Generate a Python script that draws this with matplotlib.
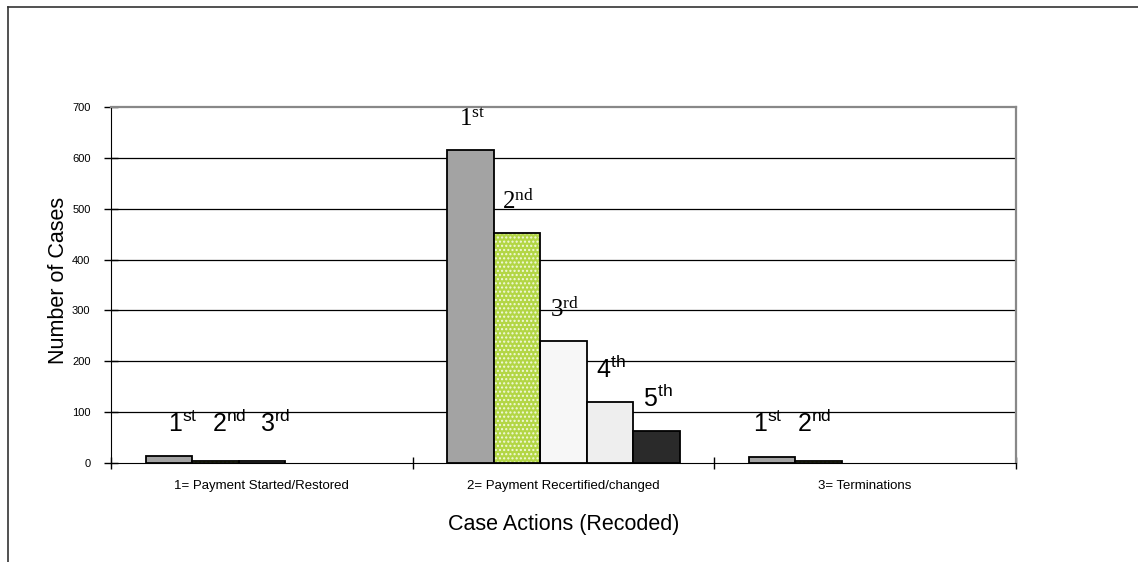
import matplotlib; matplotlib.use('Agg')
import matplotlib.pyplot as plt
from matplotlib.lines import Line2D

categories = ['1= Payment Started/Restored', '2= Payment Recertified/changed', '3= Terminations']
counts = [[14, 3, 3], [615, 452, 240, 120, 63], [11, 3]]
ordinals = ['1st', '2nd', '3rd', '4th', '5th']

# look of each slot within a group
slot_face = ['#a3a3a3', '#b3d645', '#f7f7f7', '#eeeeee', '#2a2a2a']
slot_hatch = [None, '....', None, None, None]
serif_labels = {(1, 0), (1, 1), (1, 2)}
label_dx = [0.046, 0.004, -0.016]

plt.rcParams['font.family'] = ['Liberation Sans', 'DejaVu Sans']

fig = plt.figure(figsize=(11.38, 5.62), dpi=100)
ax = fig.add_axes([0.0975, 0.1762, 0.7953, 0.6334])

w = 0.154
for gi, vals in enumerate(counts):
    for j, v in enumerate(vals):
        x = gi + (j - 2) * w
        if slot_hatch[j]:
            ax.bar(x, v, w, color=slot_face[j], edgecolor='#f2f9dc', hatch=slot_hatch[j], lw=0, zorder=3)
            ax.bar(x, v, w, fill=False, edgecolor='black', lw=1.3, zorder=4)
        else:
            ax.bar(x, v, w, color=slot_face[j], edgecolor='black', lw=1.3, zorder=3)
        base, sup = ordinals[j][0], ordinals[j][1:]
        fam = ['Liberation Serif'] if (gi, j) in serif_labels else ['Liberation Sans']
        ax.text(x + label_dx[gi], max(v, 14) + 47, r'$\mathregular{%s^{%s}}$' % (base, sup),
                ha='center', va='baseline', fontsize=18, family=fam, zorder=5)

ax.set_xlim(-0.5, 2.5)
ax.set_ylim(0, 700)
ax.set_yticks(range(0, 701, 100))
ax.tick_params(axis='y', direction='inout', length=9.4, width=1, color='black', labelsize=8, pad=10)
ax.set_xticks(range(3))
ax.set_xticklabels(categories, fontsize=9.5)
ax.tick_params(axis='x', which='major', length=0, pad=12)
ax.set_xticks([-0.5, 0.5, 1.5, 2.5], minor=True)
ax.tick_params(axis='x', which='minor', direction='inout', length=9, width=1, color='black')

for y in range(100, 700, 100):
    ax.axhline(y, color='black', lw=0.9, zorder=1)
ax.spines['left'].set_color('black')
ax.spines['bottom'].set_color('black')
for s in ('top', 'right'):
    ax.spines[s].set_color('#888888')
    ax.spines[s].set_linewidth(1.6)

ax.set_ylabel('Number of Cases', fontsize=15.5)
ax.yaxis.set_label_coords(-0.046, 0.514)
ax.set_xlabel('Case Actions (Recoded)', fontsize=15.5)
ax.xaxis.set_label_coords(0.5, -0.143)

# outer chart frame (top and left edges)
fig.add_artist(Line2D([0.007, 1.0], [0.9875, 0.9875], color='#333333', lw=1.2))
fig.add_artist(Line2D([0.007, 0.007], [0.0, 0.9875], color='#333333', lw=1.2))

fig.savefig('out.png', dpi=100)
